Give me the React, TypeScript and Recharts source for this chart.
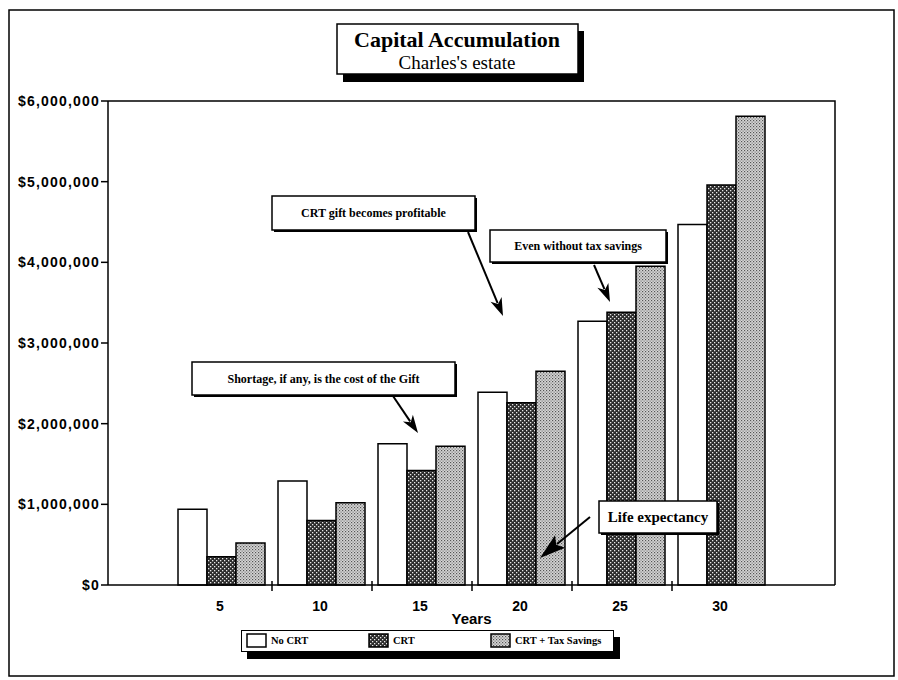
import { BarChart, Bar, XAxis, YAxis, Legend } from "recharts"

// values (dollars)
const years = ["5", "10", "15", "20", "25", "30"]
const noCrt = [940000, 1290000, 1750000, 2390000, 3270000, 4470000]
const crt = [350000, 800000, 1420000, 2260000, 3380000, 4960000]
const crtTax = [520000, 1020000, 1720000, 2650000, 3950000, 5810000]
const yTicks = [0, 1000000, 2000000, 3000000, 4000000, 5000000, 6000000]
const seriesKeys = ["noCrt", "crt", "crtTax"]
const seriesNames = ["No CRT", "CRT", "CRT + Tax Savings"]
const seriesFills = ["#ffffff", "url(#crtPat)", "url(#taxPat)"]

const data = years.map((year, i) => ({
  year,
  noCrt: noCrt[i],
  crt: crt[i],
  crtTax: crtTax[i],
}))

const W = 898
const H = 680
const plot = { left: 108, top: 101, right: 835, bottom: 585 }

const sans = "'Liberation Sans', Arial, sans-serif"
const serif = "'Liberation Serif', 'Times New Roman', serif"

const money = (v: number) => "$" + v.toLocaleString("en-US")

function YearTick(props: any) {
  const { x, y, payload, index } = props
  const half = payload && payload.offset ? payload.offset : 50
  return (
    <g>
      {index < years.length - 1 && (
        <line x1={x + half} x2={x + half} y1={y - 4} y2={y + 6} stroke="#000" strokeWidth={1.5} />
      )}
      <text x={x - 2} y={y + 26} textAnchor="middle" fontFamily={sans} fontWeight="bold" fontSize={14} fill="#000">
        {payload.value}
      </text>
    </g>
  )
}

function Arrow({ x1, y1, x2, y2, head = 18, w = 6 }: any) {
  const dx = x2 - x1
  const dy = y2 - y1
  const len = Math.hypot(dx, dy)
  const ux = dx / len
  const uy = dy / len
  const bx = x2 - ux * head
  const by = y2 - uy * head
  const px = -uy * w
  const py = ux * w
  return (
    <g>
      <line x1={x1} y1={y1} x2={bx + ux * 4} y2={by + uy * 4} stroke="#000" strokeWidth={2} />
      <polygon
        points={`${x2},${y2} ${bx + px},${by + py} ${bx + ux * 5},${by + uy * 5} ${bx - px},${by - py}`}
        fill="#000"
      />
    </g>
  )
}

function Note({ x, y, w, h, text, size = 12 }: any) {
  return (
    <g>
      <rect x={x + 2} y={y + 2} width={w} height={h} fill="#000" />
      <rect x={x} y={y} width={w} height={h} fill="#fff" stroke="#000" strokeWidth={1.5} />
      <text
        x={x + w / 2}
        y={y + h / 2 + size * 0.35}
        textAnchor="middle"
        fontFamily={serif}
        fontWeight="bold"
        fontSize={size}
        fill="#000"
      >
        {text}
      </text>
    </g>
  )
}

const legendX = [4, 126, 248]

function LegendBox() {
  return (
    <div
      style={{
        position: "relative",
        width: 373,
        height: 22,
        boxSizing: "border-box",
        border: "1.5px solid #000",
        background: "#fff",
        boxShadow: "6px 7px 0 #000",
      }}
    >
      {seriesNames.map((name, i) => (
        <div
          key={name}
          style={{ position: "absolute", left: legendX[i], top: 2, display: "flex", alignItems: "center" }}
        >
          <svg width={21} height={15}>
            <rect x={1} y={1} width={19} height={13} fill={seriesFills[i]} stroke="#000" strokeWidth={1.5} />
          </svg>
          <span
            style={{
              marginLeft: 4,
              fontFamily: serif,
              fontWeight: "bold",
              fontSize: 10.5,
              lineHeight: "15px",
              color: "#000",
            }}
          >
            {name}
          </span>
        </div>
      ))}
    </div>
  )
}

export default function App() {
  return (
    <div style={{ position: "absolute", left: 0, top: 0, width: W, height: H, background: "#fff" }}>
      <BarChart
        width={W}
        height={H}
        data={data}
        margin={{ top: plot.top, left: 8, right: W - plot.right, bottom: 0 }}
        barCategoryGap="6%"
        barGap={0}
      >
        <XAxis
          dataKey="year"
          height={H - plot.bottom}
          padding={{ left: 64, right: 63 }}
          tickLine={false}
          tickSize={0}
          tickMargin={0}
          tick={<YearTick />}
          interval={0}
          axisLine={{ stroke: "#000", strokeWidth: 1.5 }}
          label={{
            value: "Years",
            position: "insideTop",
            offset: 28,
            fontFamily: sans,
            fontWeight: "bold",
            fontSize: 15,
            fill: "#000",
          }}
        />
        <YAxis
          width={100}
          domain={[0, 6000000]}
          ticks={yTicks}
          tickFormatter={money}
          tickSize={7}
          tickMargin={1}
          interval={0}
          axisLine={{ stroke: "#000", strokeWidth: 1.5 }}
          tickLine={{ stroke: "#000", strokeWidth: 1.5 }}
          tick={{ fontFamily: sans, fontWeight: "bold", fontSize: 14, fill: "#000", letterSpacing: 1.2 }}
        />
        <Legend
          layout="horizontal"
          verticalAlign="middle"
          align="center"
          content={() => <LegendBox />}
          wrapperStyle={{ position: "absolute", left: 241, top: 630, width: 373, height: 22 }}
        />
        {seriesKeys.map((key, i) => (
          <Bar
            key={key}
            dataKey={key}
            name={seriesNames[i]}
            fill={seriesFills[i]}
            stroke="#000"
            strokeWidth={1.5}
            isAnimationActive={false}
          />
        ))}
      </BarChart>

      <svg
        width={W}
        height={H}
        style={{ position: "absolute", left: 0, top: 0, pointerEvents: "none" }}
      >
        <defs>
          <pattern id="crtPat" width={4} height={4} patternUnits="userSpaceOnUse">
            <rect width={4} height={4} fill="#2b2b2b" />
            <rect x={0} y={0} width={1.3} height={1.3} fill="#e8e8e8" />
            <rect x={2} y={2} width={1.3} height={1.3} fill="#e8e8e8" />
          </pattern>
          <pattern id="taxPat" width={3} height={3} patternUnits="userSpaceOnUse">
            <rect width={3} height={3} fill="#d6d6d6" />
            <rect x={0} y={0} width={1.2} height={1.2} fill="#555" />
            <rect x={1.5} y={1.5} width={1.2} height={1.2} fill="#777" />
          </pattern>
        </defs>

        {/* page frame */}
        <rect x={9} y={10} width={885} height={666} fill="none" stroke="#000" strokeWidth={1.5} />

        {/* plot box top and right */}
        <polyline
          points={`${plot.left},${plot.top} ${plot.right},${plot.top} ${plot.right},${plot.bottom}`}
          fill="none"
          stroke="#000"
          strokeWidth={1.5}
        />

        {/* title box */}
        <rect x={343} y={31} width={241} height={51} fill="#000" />
        <rect x={337} y={24} width={241} height={50} fill="#fff" stroke="#000" strokeWidth={1.5} />
        <text x={457} y={47} textAnchor="middle" fontFamily={serif} fontWeight="bold" fontSize={22} fill="#000">
          Capital Accumulation
        </text>
        <text x={457} y={69} textAnchor="middle" fontFamily={serif} fontSize={19} fill="#000">
          Charles's estate
        </text>

        {/* annotations */}
        <Note x={272} y={196} w={203} h={34} text="CRT gift becomes profitable" />
        <Arrow x1={468} y1={232} x2={503} y2={316} />
        <Note x={490} y={230} w={176} h={32} text="Even without tax savings" />
        <Arrow x1={594} y1={265} x2={610} y2={302} />
        <Note x={192} y={362} w={263} h={33} text="Shortage, if any, is the cost of the Gift" />
        <Arrow x1={393} y1={396} x2={418} y2={433} />
        <Arrow x1={590} y1={517} x2={540} y2={558} head={26} w={8} />
        <Note x={599} y={501} w={118} h={32} text="Life expectancy" size={15} />
      </svg>
    </div>
  )
}
